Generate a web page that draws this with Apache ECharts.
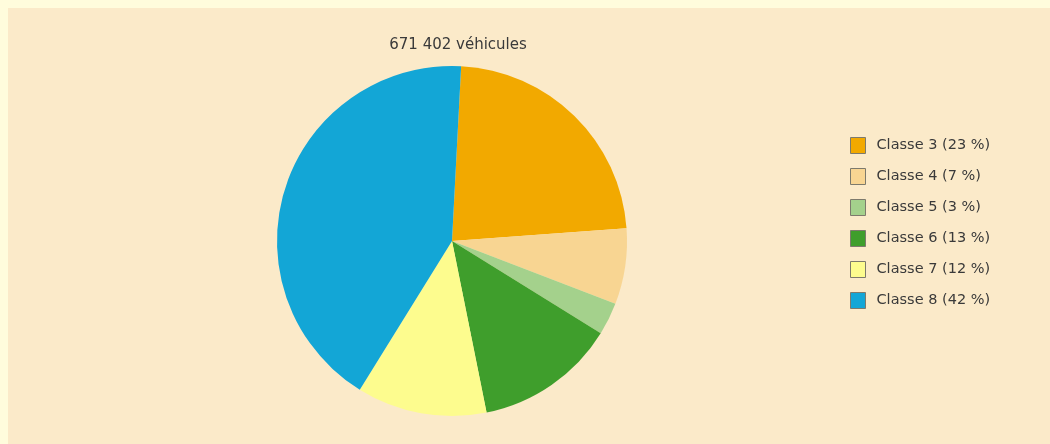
<!DOCTYPE html>
<html>
<head>
<meta charset="utf-8">
<script src="https://cdn.jsdelivr.net/npm/echarts@6/dist/echarts.min.js"></script>
<style>
  html, body { margin: 0; padding: 0; background: #fffcdc; }
  #chart {
    position: absolute; left: 0; top: 0;
    width: 1050px; height: 444px;
    box-sizing: border-box;
    border-top: 8px solid #fffcdc;
    border-left: 8px solid #fffcdc;
    background: #fbeac9;
  }
</style>
</head>
<body>
<div id="chart"></div>
<script>
// Répartition des véhicules par classe
const totalLabel = '671 402 véhicules';
const categories = ['Classe 3', 'Classe 4', 'Classe 5', 'Classe 6', 'Classe 7', 'Classe 8'];
const shares = [23, 7, 3, 13, 12, 42];
const colors = ['#f2a900', '#f8d592', '#a4d18c', '#3f9e2c', '#fdfc8e', '#13a6d6'];

const data = categories.map((name, i) => ({
  name: name,
  value: shares[i],
  itemStyle: { color: colors[i] }
}));

const chart = echarts.init(document.getElementById('chart'), null, { renderer: 'canvas' });
chart.setOption({
  backgroundColor: 'transparent',
  animation: false,
  title: {
    text: totalLabel,
    left: 445,
    top: 25,
    textAlign: 'center',
    textStyle: {
      fontFamily: 'DejaVu Sans',
      fontSize: 15,
      fontWeight: 'normal',
      color: '#3a3a3a'
    }
  },
  legend: {
    orient: 'vertical',
    left: 837,
    top: 124,
    itemWidth: 15,
    itemHeight: 16,
    itemGap: 14,
    icon: 'rect',
    itemStyle: { borderColor: '#7d7a6c', borderWidth: 1 },
    formatter: name => name + ' (' + shares[categories.indexOf(name)] + ' %)',
    textStyle: {
      fontFamily: 'DejaVu Sans',
      fontSize: 14.5,
      color: '#3a3a3a',
      padding: [0, 0, 0, 6]
    },
    data: categories
  },
  series: [{
    type: 'pie',
    center: [444, 233],
    radius: 175,
    startAngle: 87,
    clockwise: true,
    label: { show: false },
    labelLine: { show: false },
    itemStyle: { borderWidth: 0 },
    emphasis: { disabled: true },
    data: data
  }]
});
</script>
</body>
</html>
